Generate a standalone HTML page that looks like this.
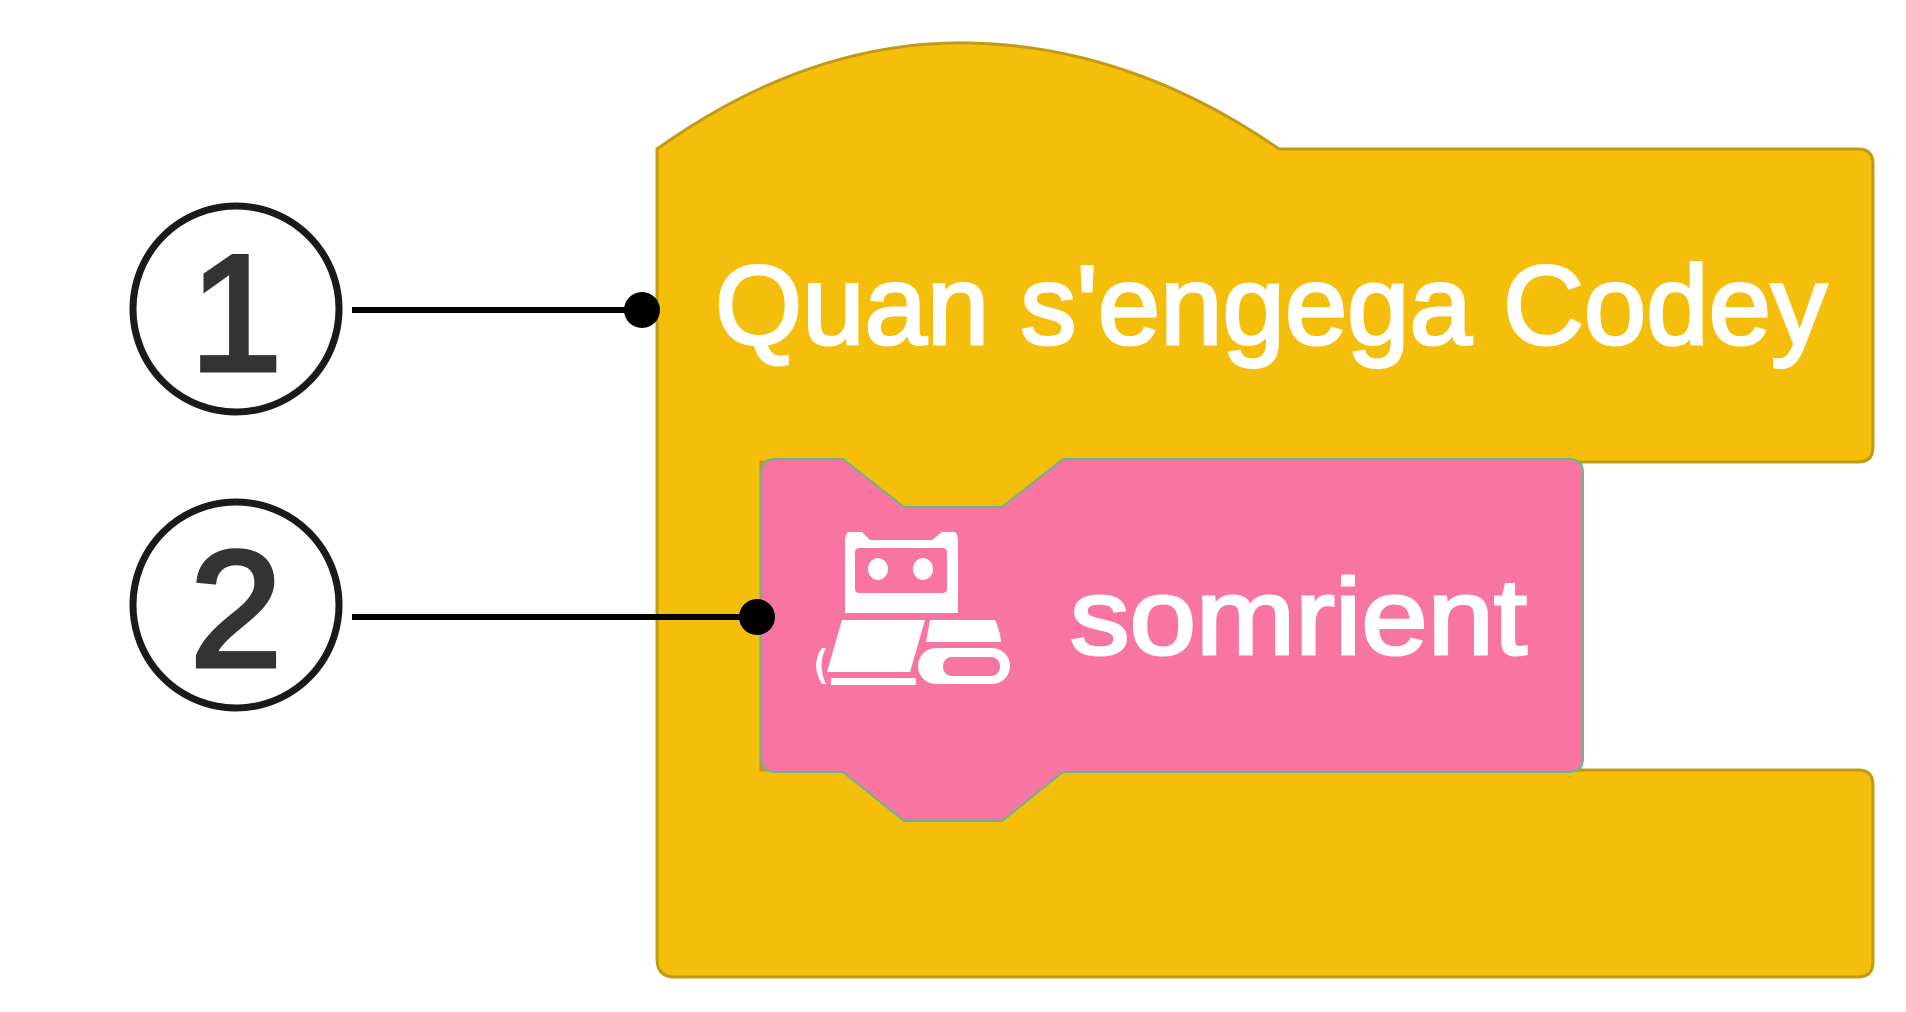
<!DOCTYPE html>
<html><head><meta charset="utf-8"><style>
html,body{margin:0;padding:0;background:#fff;}
svg{display:block;}
</style></head><body>
<svg width="1906" height="1012" viewBox="0 0 1906 1012" xmlns="http://www.w3.org/2000/svg">
<path d="M657,149 Q810,40 969,43 Q1130,46 1279,149 L1858,149 Q1873,149 1873,164 L1873,447 Q1873,462 1858,462 L1063,462 L1002,510 L904,510 L843,462 L761,462 L761,770 L1858,770 Q1873,770 1873,785 L1873,962 Q1873,977 1858,977 L675,977 Q657,977 657,959 Z" fill="#F4BE0A" stroke="#C29B14" stroke-width="3"/>
<path d="M775,459 L843,459 L904,507 L1002,507 L1063,459 L1569,459 Q1583,459 1583,473 L1583,758 Q1583,772 1569,772 L1063,772 L1002,821 L904,821 L843,772 L775,772 Q761,772 761,758 L761,473 Q761,459 775,459 Z" fill="#F875A2" stroke="#6CB58A" stroke-width="2"/>
<g fill="#fff">
<path d="M848,532 L862,532 L870,540 L932,540 L942,532 L955,532 Q958,535 958,540 L958,613 L845,613 L845,540 Q845,535 848,532 Z"/>
<rect x="855" y="548" width="92" height="45" rx="4" fill="#F875A2"/>
<ellipse cx="878" cy="569" rx="10" ry="11" fill="#fff"/>
<ellipse cx="923" cy="569" rx="10" ry="11" fill="#fff"/>
<path d="M842,620 L925,620 L910,672 L827,672 Z"/>
<path d="M930,620 L995,620 Q1000,630 1001,642 L926,642 Z"/>
<rect x="918" y="648" width="92" height="36" rx="18"/>
<rect x="943" y="657" width="57" height="19" rx="9" fill="#F875A2"/>
<rect x="831" y="678" width="85" height="7"/>
<path d="M822,648 Q810,665 822,684 L826,684 Q817,665 826,648 Z"/>
</g>
<text x="715" y="344" font-family="Liberation Sans, sans-serif" font-size="112" fill="#fff" stroke="#fff" stroke-width="3" textLength="1112" lengthAdjust="spacingAndGlyphs">Quan s'engega Codey</text>
<text x="1070" y="654" font-family="Liberation Sans, sans-serif" font-size="108" fill="#fff" stroke="#fff" stroke-width="3" textLength="457" lengthAdjust="spacingAndGlyphs">somrient</text>
<circle cx="236" cy="309" r="103" fill="#fff" stroke="#1a1a1a" stroke-width="7"/>
<circle cx="236" cy="605" r="103" fill="#fff" stroke="#1a1a1a" stroke-width="7"/>
<text x="236" y="370" text-anchor="middle" font-family="Liberation Sans, sans-serif" font-size="165" fill="#333" stroke="#333" stroke-width="5">1</text>
<text x="236" y="666" text-anchor="middle" font-family="Liberation Sans, sans-serif" font-size="165" fill="#333" stroke="#333" stroke-width="5">2</text>
<line x1="352" y1="310" x2="642" y2="310" stroke="#000" stroke-width="6"/>
<circle cx="642" cy="310" r="18" fill="#000"/>
<line x1="352" y1="617" x2="757" y2="617" stroke="#000" stroke-width="6"/>
<circle cx="757" cy="617" r="18" fill="#000"/>
</svg>
</body></html>
